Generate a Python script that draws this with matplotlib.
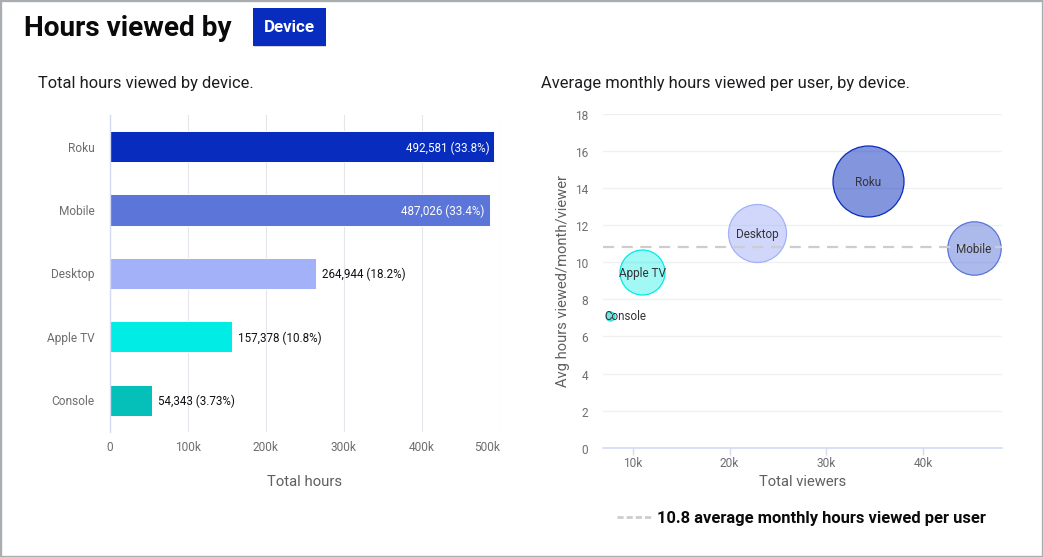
import matplotlib
matplotlib.use("Agg")
import matplotlib.pyplot as plt
from matplotlib.patches import Rectangle
from matplotlib.lines import Line2D
from matplotlib.transforms import ScaledTranslation

plt.rcParams['font.family'] = ['Roboto', 'DejaVu Sans']

# ---- data ----
devices = ["Roku", "Mobile", "Desktop", "Apple TV", "Console"]
total_hours = [492581, 487026, 264944, 157378, 54343]
hour_shares = ["33.8", "33.4", "18.2", "10.8", "3.73"]
hour_ticks = [0, 100000, 200000, 300000, 400000, 500000]
hour_tick_labels = ["0", "100k", "200k", "300k", "400k", "500k"]

total_viewers = [34280, 45230, 22870, 10960, 7655]
avg_hours = [14.39, 10.79, 11.6, 9.49, 7.1]
bubble_radius = [35.5, 26.7, 29.0, 22.5, 4.5]
bubble_alpha = [0.5, 0.5, 0.5, 0.37, 0.5]
viewer_ticks = [10000, 20000, 30000, 40000]
viewer_tick_labels = ["10k", "20k", "30k", "40k"]
avg_ticks = [0, 2, 4, 6, 8, 10, 12, 14, 16, 18]
overall_avg = 10.8

bar_colors = ["#082cbd", "#5b75d8", "#a3b1f8", "#00ece4", "#05c0b9"]
bubble_edges = ["#082cbd", "#5b75d8", "#a3b1f8", "#00ece4", "#30dcd6"]

W, H = 1043, 557
fig = plt.figure(figsize=(W / 100, H / 100), dpi=100, facecolor="white")


def fx(p):
    return p / W


def fy(p):
    return 1 - p / H


def axes_px(l, t, r, b):
    return fig.add_axes([fx(l), fy(b), (r - l) / W, (b - t) / H])


def ftext(x, y, s, **kw):
    kw.setdefault("va", "center")
    return fig.text(fx(x), fy(y), s, **kw)


def nudge(labels, dy_px):
    off = ScaledTranslation(0, -dy_px / 100, fig.dpi_scale_trans)
    for t in labels:
        t.set_transform(t.get_transform() + off)


PX = 0.72
TICK = "#6e6e72"
LABEL = "#5f5f63"
TS = 8.6

# frame
fig.add_artist(Rectangle((0, 0), 1, 1, transform=fig.transFigure, fill=False,
                         edgecolor="#a9acb0", linewidth=2.4))

# header
ftext(23.5, 28.5, "Hours viewed by", fontsize=20.2, fontweight="bold", color="#0a0a0c")
fig.add_artist(Rectangle((fx(253.5), fy(47)), 72 / W, 37 / H, transform=fig.transFigure,
                         facecolor="#d4d6da", edgecolor="none"))
fig.add_artist(Rectangle((fx(253), fy(45.5)), 73 / W, 38 / H, transform=fig.transFigure,
                         facecolor="#082cbd", edgecolor="none"))
ftext(289.5, 27.5, "Device", fontsize=12.2, fontweight="bold", color="white", ha="center")
ftext(38, 83.5, "Total hours viewed by device.", fontsize=11.85, color="#1c1c20")
ftext(541, 83.5, "Average monthly hours viewed per user, by device.", fontsize=11.85, color="#1c1c20")

# ---- left chart ----
ax = axes_px(109.5, 115, 500, 431.7)
ax.set_xlim(0, 500000)
ax.set_ylim(4.5, -0.5)
ax.set_xticks(hour_ticks)
ax.set_xticklabels(hour_tick_labels)
ax.set_yticks(range(len(devices)))
ax.set_yticklabels(devices)
ax.tick_params(axis="x", length=0, pad=6.5, labelsize=TS, labelcolor=TICK)
ax.tick_params(axis="y", length=0, pad=10.7, labelsize=TS, labelcolor=TICK)
ax.get_xticklabels()[-1].set_ha("right")
ax.grid(axis="x", color="#e5e6eb", linewidth=0.8, zorder=0)
ax.set_axisbelow(True)
for s in ax.spines.values():
    s.set_visible(False)
ax.spines["left"].set_visible(True)
ax.spines["left"].set_color("#d3dbf3")
ax.spines["left"].set_linewidth(1.0)
ax.barh(range(len(devices)), total_hours, height=0.49, color=bar_colors,
        edgecolor="white", linewidth=0.7, zorder=2)
for i, (v, p) in enumerate(zip(total_hours, hour_shares)):
    lab = f"{v:,} ({p}%)"
    if v > 400000:
        ax.annotate(lab, (v, i), xytext=(-3.6, -0.9), textcoords="offset points",
                    ha="right", va="center", fontsize=8.4, color="white", zorder=3)
    else:
        ax.annotate(lab, (v, i), xytext=(4.3, -0.9), textcoords="offset points",
                    ha="left", va="center", fontsize=8.4, color="#111114", zorder=3)
ftext(305, 482.5, "Total hours", fontsize=10.7, color=LABEL, ha="center")

# ---- right chart ----
ax2 = axes_px(603.3, 114, 1002, 447.7)
ax2.set_xlim(6963, 48130)
ax2.set_ylim(0, 18)
ax2.set_xticks(viewer_ticks)
ax2.set_xticklabels(viewer_tick_labels)
ax2.set_yticks(avg_ticks)
ax2.tick_params(axis="x", length=5, width=1, color="#d3dbf3", pad=1.5,
                labelsize=TS, labelcolor=TICK)
ax2.tick_params(axis="y", length=0, pad=11, labelsize=TS, labelcolor=TICK)
nudge(ax2.get_yticklabels(), 1)
ax2.grid(axis="y", color="#eff0f3", linewidth=1.0, zorder=0)
ax2.set_axisbelow(True)
for s in ax2.spines.values():
    s.set_visible(False)
ax2.spines["bottom"].set_visible(True)
ax2.spines["bottom"].set_color("#d3dbf3")
ax2.spines["bottom"].set_linewidth(1.2)
for i in range(len(devices)):
    area = (2 * bubble_radius[i] * PX) ** 2
    ax2.scatter(total_viewers[i], avg_hours[i], s=area,
                facecolor=matplotlib.colors.to_rgba(bar_colors[i], bubble_alpha[i]),
                edgecolor=bubble_edges[i], linewidth=0.9, zorder=2, clip_on=False)
avg_line = ax2.axhline(overall_avg, color="#cdcdd0", linewidth=1.6,
                       dashes=(5, 3.4), zorder=3)
for i, name in enumerate(devices):
    if name == "Console":
        ax2.annotate(name, (total_viewers[i], avg_hours[i]), xytext=(-4.3, -0.6),
                     textcoords="offset points", ha="left", va="center",
                     fontsize=8.4, color="#333338", zorder=4)
    else:
        ax2.annotate(name, (total_viewers[i], avg_hours[i]), xytext=(0, -1.0),
                     textcoords="offset points", ha="center", va="center",
                     fontsize=8.5, color="#333338", zorder=4)
ftext(803, 482.5, "Total viewers", fontsize=10.6, color=LABEL, ha="center")
ftext(563, 281, "Avg hours viewed/month/viewer", fontsize=10.6, color=LABEL,
      ha="center", rotation=90)

# legend
handle = Line2D([], [], color="#cdcdd0", linewidth=2, dashes=(2.2, 1.1))
leg = fig.legend([handle], [f"{overall_avg} average monthly hours viewed per user"],
                 loc="center left", bbox_to_anchor=(fx(602.6), fy(518.5)), frameon=False,
                 handlelength=2.0, handletextpad=0.42, borderpad=0.4,
                 prop={"size": 11.9, "weight": "bold"})
leg.get_texts()[0].set_color("#0a0a0c")

fig.savefig("out.png", dpi=100)
